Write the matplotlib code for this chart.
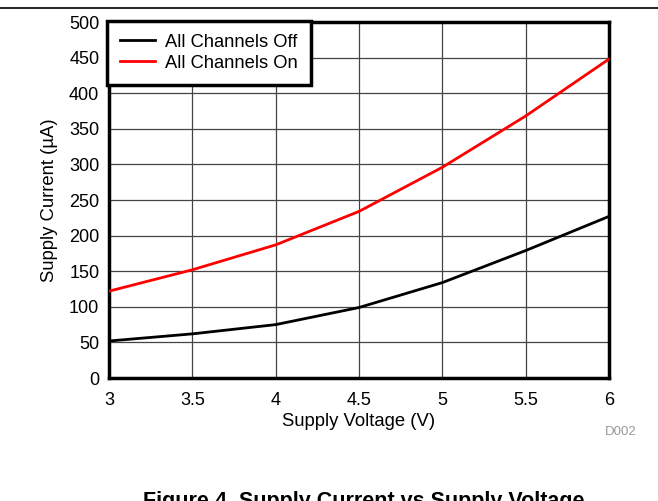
import matplotlib
matplotlib.use("Agg")
import matplotlib.pyplot as plt
from matplotlib.lines import Line2D

plt.rcParams["font.family"] = ["Liberation Sans", "DejaVu Sans"]

# ---------- data -----------------------------------------------------------
voltage = [3.0, 3.5, 4.0, 4.5, 5.0, 5.5, 6.0]
current_off = [52, 62, 75, 99, 134, 179, 227]
current_on = [122, 152, 187, 234, 296, 368, 448]
x_ticks = [3, 3.5, 4, 4.5, 5, 5.5, 6]
x_labels = ["3", "3.5", "4", "4.5", "5", "5.5", "6"]
y_ticks = list(range(0, 501, 50))

# ---------- figure ---------------------------------------------------------
fig = plt.figure(figsize=(6.58, 5.01), dpi=100)
ax = fig.add_axes([0.1657, 0.2455, 0.7598, 0.7105])

ax.plot(voltage, current_off, color="black", lw=2, label="All Channels Off", zorder=3)
ax.plot(voltage, current_on, color="#ff0000", lw=2, label="All Channels On", zorder=3)

ax.set_xlim(3, 6)
ax.set_ylim(0, 500)
ax.set_xticks(x_ticks)
ax.set_xticklabels(x_labels)
ax.set_yticks(y_ticks)
ax.tick_params(axis="x", length=0, labelsize=13, pad=10)
ax.tick_params(axis="y", length=0, labelsize=13, pad=7)
ax.grid(True, color="#444444", lw=0.9)
ax.set_axisbelow(True)
for s in ax.spines.values():
    s.set_linewidth(2.5)
    s.set_color("black")

ax.set_xlabel("Supply Voltage (V)", fontsize=13.3, labelpad=3)
ax.set_ylabel("Supply Current (\u00b5A)", fontsize=13.3, labelpad=8)

leg = ax.legend(loc="upper left", bbox_to_anchor=(-0.004, 1.004), fontsize=13.2,
                frameon=True, fancybox=False, handlelength=1.9,
                borderpad=0.72, labelspacing=0.22, handletextpad=0.55,
                borderaxespad=0)
leg.get_frame().set_edgecolor("black")
leg.get_frame().set_linewidth(2.5)
leg.get_frame().set_alpha(1)

fig.text(0.967, 0.131, "D002", fontsize=9.5, color="#999999", ha="right")

# top rule and caption
fig.add_artist(Line2D([0, 1], [1 - 8 / 501, 1 - 8 / 501], color="black", lw=1.2))
fig.text(0.553, -0.022, "Figure 4. Supply Current vs Supply Voltage",
         fontsize=15.5, fontweight="bold", ha="center", va="bottom")

fig.savefig("out.png", dpi=100)
